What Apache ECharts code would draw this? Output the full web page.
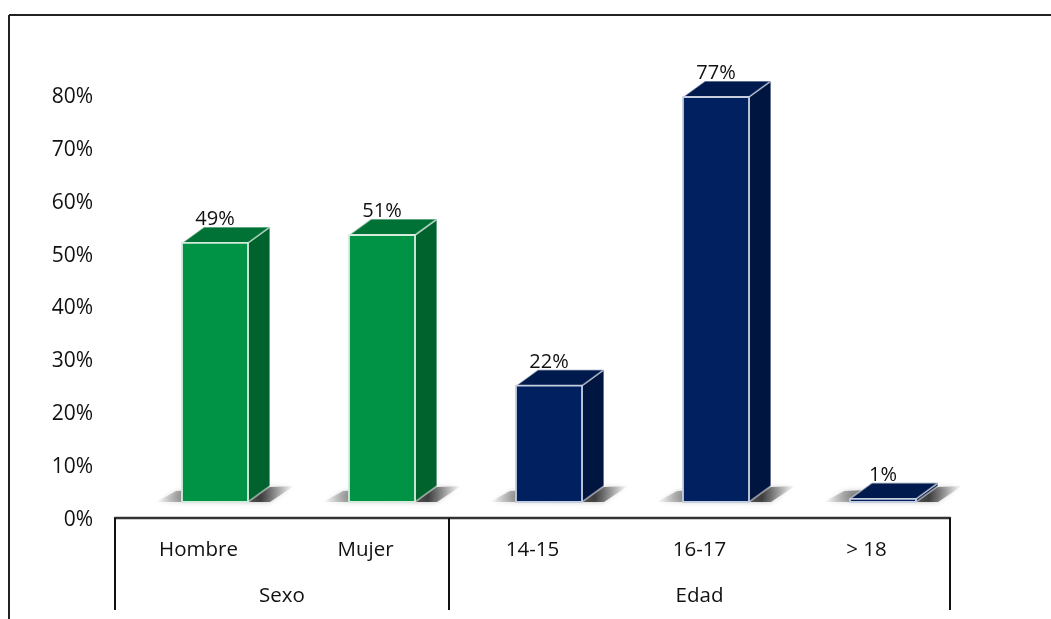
<!DOCTYPE html>
<html><head><meta charset="utf-8">
<style>html,body{margin:0;padding:0;background:#fff}#c{width:1051px;height:619px}</style>
<script src="https://cdn.jsdelivr.net/npm/echarts@6/dist/echarts.min.js"></script>
</head><body><div id="c"></div>
<script>
const categories = ['Hombre','Mujer','14-15','16-17','> 18'];
const values = [49,50.5,22,76.6,0.6];
const groupNames = ['Sexo','Sexo','Edad','Edad','Edad'];
const yTicks = [0,10,20,30,40,50,60,70,80];

const FONT = '"Open Sans"';
const palette = {
  Sexo:{front:'#009245',top:'#007236',side:'#00632e',edge:'#d5ebdd'},
  Edad:{front:'#002060',top:'#001a4d',side:'#001540',edge:'#c5cede'}
};
const SHIFT = 16.5, FLOOR = 16, DX = 22, DY = 16;

function renderBar(params, api){
  const i = api.value(0), v = api.value(1);
  const c = palette[groupNames[i]];
  const center = api.coord([i,0]);
  const top = api.coord([i,v]);
  const w = 66;
  const x0 = center[0]+SHIFT-w/2, x1 = x0+w;
  const by = center[1]-FLOOR, ty = top[1]-FLOOR;
  const s = {stroke:c.edge,lineWidth:1.8,lineJoin:'round'};
  const soft = {stroke:'rgba(255,255,255,.5)',lineWidth:1.6,lineJoin:'round'};
  return {type:'group',children:[
    {type:'polygon',silent:true,z2:1,
      shape:{points:[[x0-26,by],[x0-6,by-11],[x1+46,by-16],[x1+22,by]]},
      style:{fill:{type:'linear',x:0,y:0,x2:1,y2:0,colorStops:[
        {offset:0,color:'rgba(90,90,90,0)'},{offset:.2,color:'rgba(90,90,90,.6)'},
        {offset:.76,color:'rgba(40,40,40,.85)'},{offset:1,color:'rgba(90,90,90,0)'}]},
        shadowBlur:5,shadowColor:'rgba(90,90,90,.5)'}},
    {type:'polygon',z2:2,shape:{points:[[x1,ty],[x1+DX,ty-DY],[x1+DX,by-DY],[x1,by]]},
      style:Object.assign({fill:c.side},soft)},
    {type:'polygon',z2:3,shape:{points:[[x0,ty],[x1,ty],[x1+DX,ty-DY],[x0+DX,ty-DY]]},
      style:Object.assign({fill:c.top},soft)},
    {type:'rect',z2:4,shape:{x:x0,y:ty,width:w,height:by-ty},
      style:Object.assign({fill:c.front},s)},
    {type:'text',z2:6,style:{text:Math.round(v)+'%',x:x0+w/2,y:ty-DY-7.5,align:'center',verticalAlign:'middle',
      font:'20px '+FONT,fill:'#111'}}
  ]};
}

function renderGroups(params, api){
  const i = api.value(0);
  const name = groupNames[i];
  const band = api.size([1,0])[0];
  const c = api.coord([i,0]);
  const start = groupNames.indexOf(name), end = groupNames.lastIndexOf(name);
  const kids = [];
  const line = x => ({type:'line',shape:{x1:x,y1:c[1],x2:x,y2:c[1]+92},style:{stroke:'#111',lineWidth:2}});
  if(i===start) kids.push(line(c[0]-band/2));
  if(i===end) kids.push(line(c[0]+band/2));
  if(i===start){
    const mid = c[0]+(end-start)*band/2;
    kids.push({type:'text',style:{text:name,x:mid,y:c[1]+78,align:'center',verticalAlign:'middle',font:'20.5px '+FONT,fill:'#111'}});
  }
  return {type:'group',children:kids};
}

const chart = echarts.init(document.getElementById('c'),null,{renderer:'canvas'});
chart.setOption({
  animation:false,
  backgroundColor:'#fff',
  textStyle:{fontFamily:FONT},
  grid:{left:115,right:101,top:95,bottom:101,containLabel:false},
  xAxis:{type:'category',data:categories,
    axisLine:{lineStyle:{color:'#333',width:2.4}},axisTick:{show:false},
    axisLabel:{color:'#111',fontSize:20.5,fontFamily:FONT,margin:22,interval:0}},
  yAxis:{type:'value',min:0,max:80,interval:10,
    axisLine:{show:false},axisTick:{show:false},splitLine:{show:false},
    axisLabel:{color:'#111',fontSize:21,fontFamily:FONT,margin:22,
      rich:{t:{fontSize:21,fontFamily:FONT,color:'#111',padding:[4,0,0,0]}},
      formatter:v=>yTicks.includes(v)?'{t|'+v+'%}':''}},
  graphic:[
    {type:'line',shape:{x1:9,y1:15,x2:1051,y2:15},style:{stroke:'#222',lineWidth:2}},
    {type:'line',shape:{x1:9,y1:15,x2:9,y2:619},style:{stroke:'#222',lineWidth:2}}
  ],
  series:[
    {type:'custom',clip:false,coordinateSystem:'cartesian2d',renderItem:renderBar,
      data:values.map((v,i)=>[i,v]),encode:{x:0,y:1},z:3},
    {type:'custom',clip:false,coordinateSystem:'cartesian2d',renderItem:renderGroups,silent:true,
      data:categories.map((_,i)=>[i,0]),encode:{x:0,y:1},z:2}
  ]
});
</script></body></html>
